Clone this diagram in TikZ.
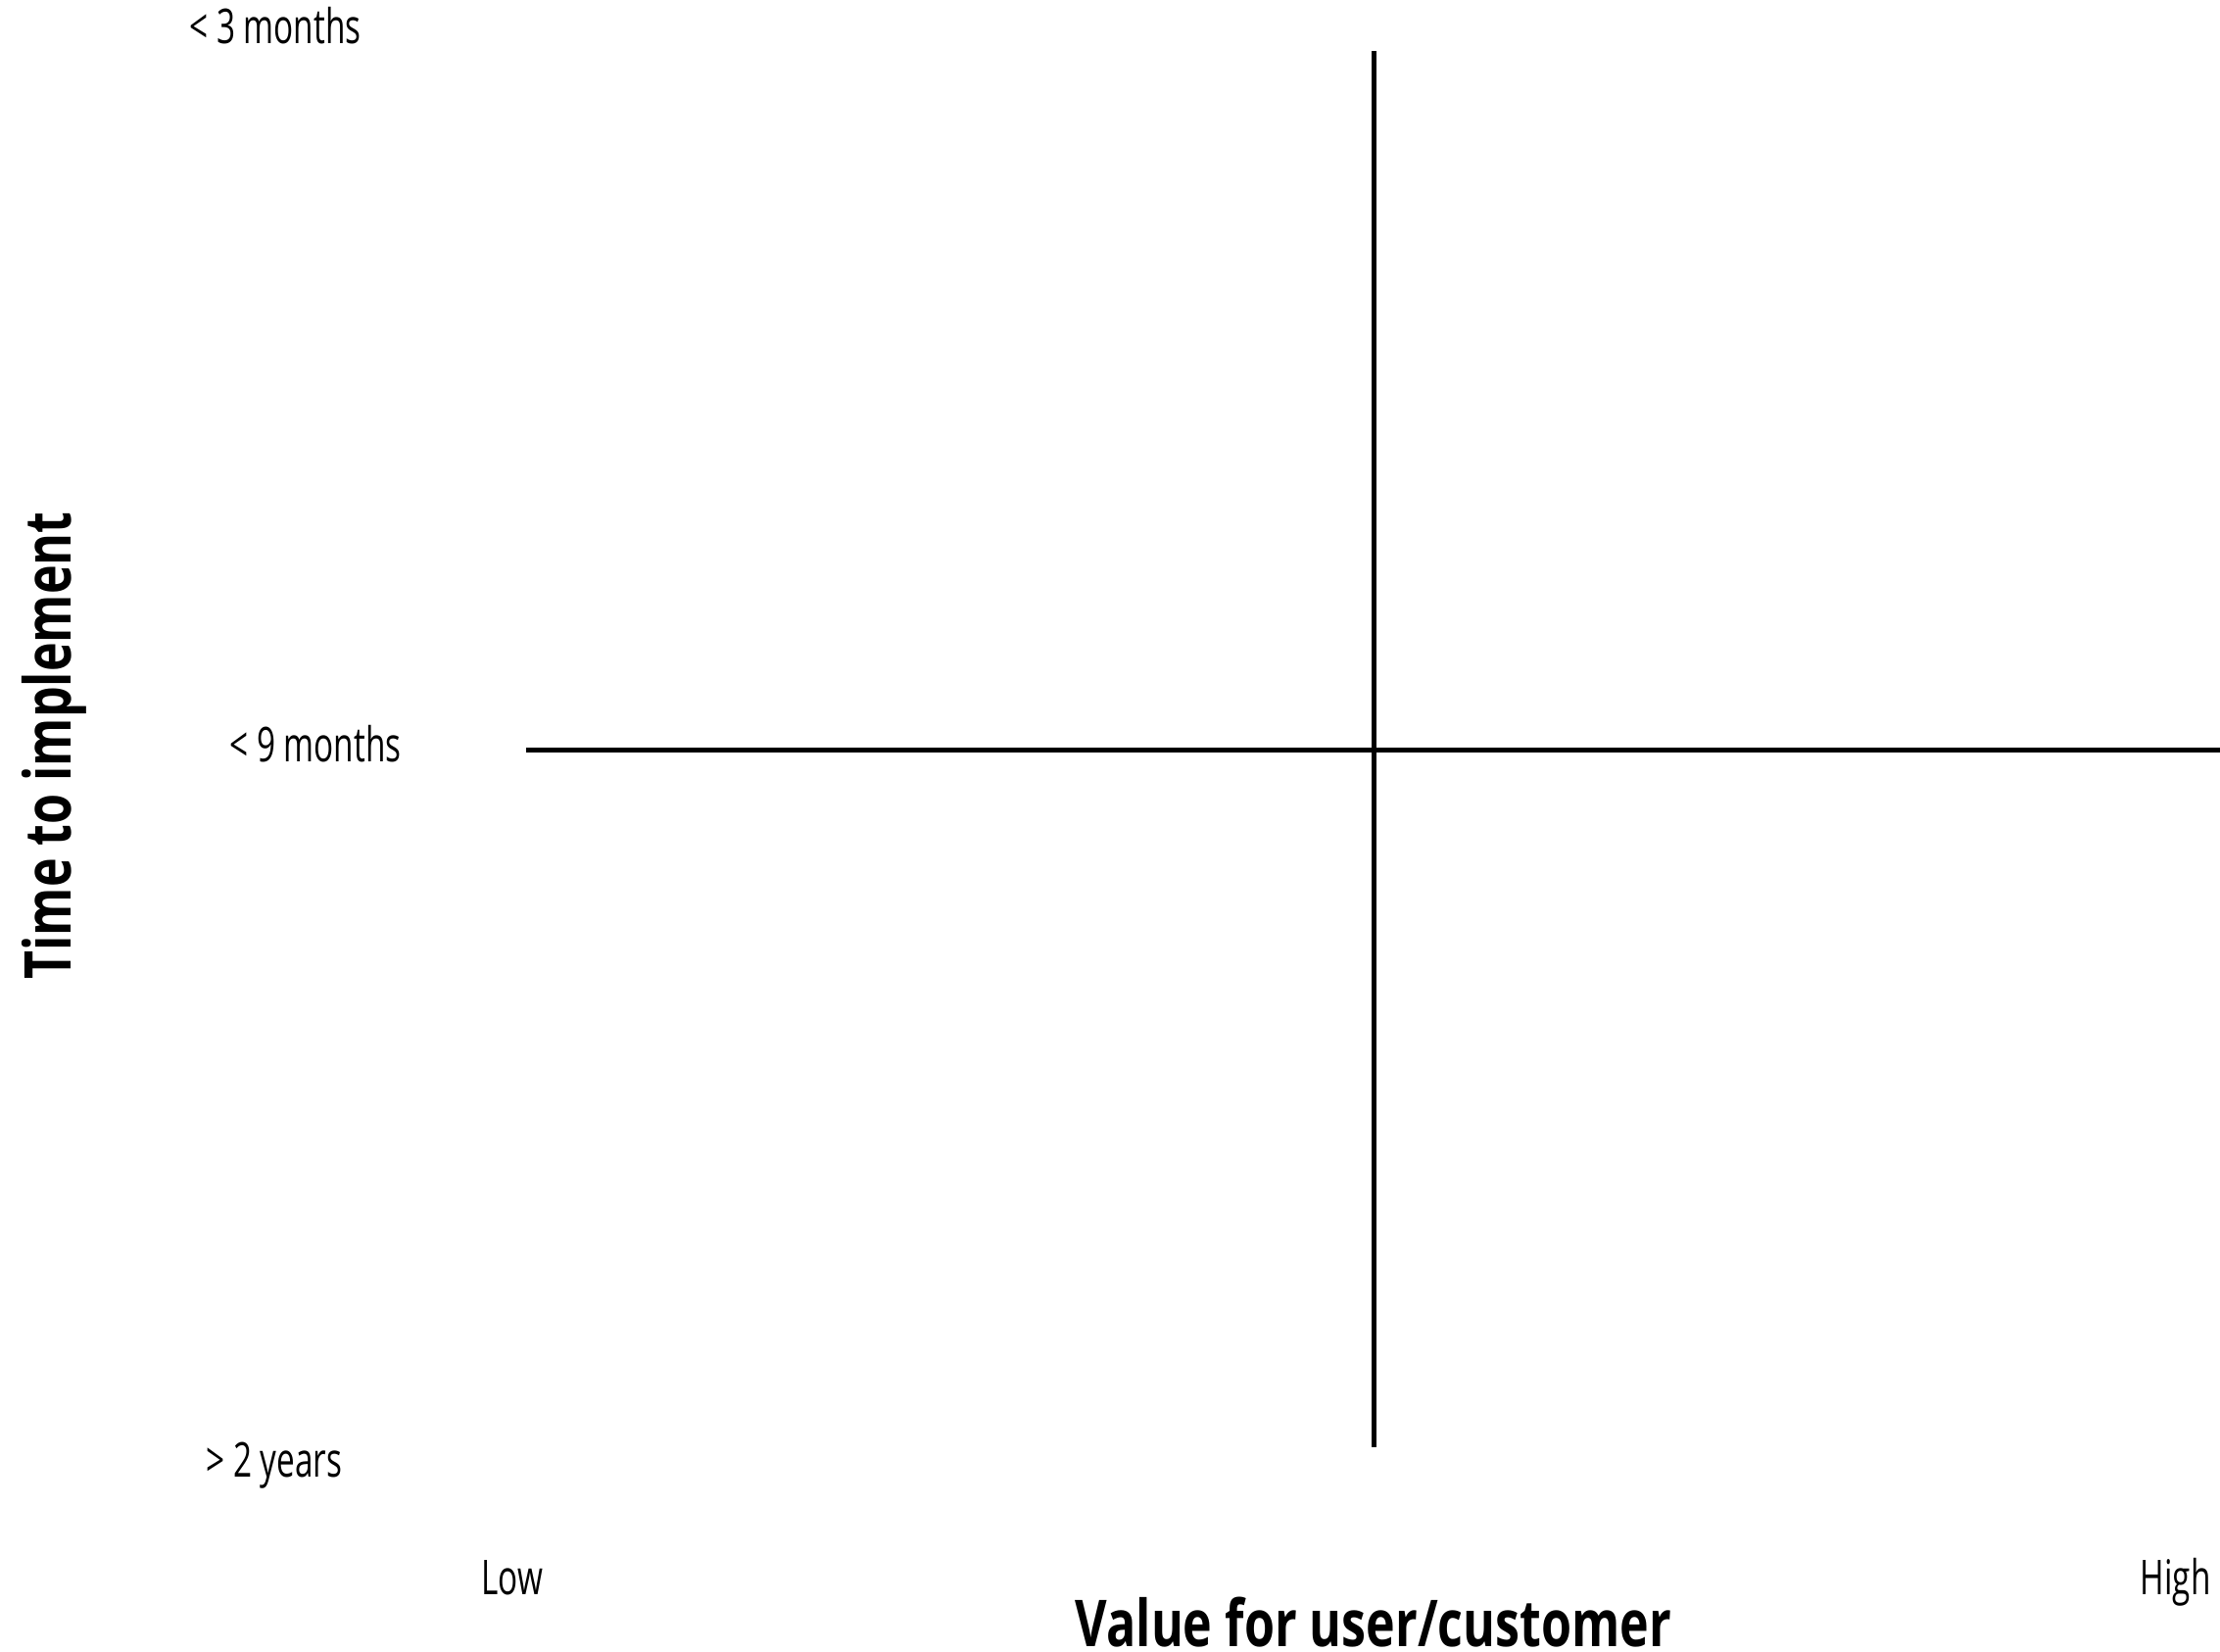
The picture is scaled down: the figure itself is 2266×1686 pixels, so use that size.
\documentclass[tikz,border=0pt]{standalone}
\usepackage{fontspec}
\setmainfont{Open Sans}[FakeStretch=0.68]
\newfontfamily\titlefont{Open Sans}[FakeStretch=0.76]
\begin{document}
\begin{tikzpicture}[x=0.5pt,y=-0.5pt,
  lbl/.style={inner sep=0pt,font=\fontsize{24.5}{28}\selectfont},
  ttl/.style={inner sep=0pt,font=\titlefont\bfseries\fontsize{33}{38}\selectfont},
  axisline/.style={line width=2.5pt,black}]
\useasboundingbox (0,0) rectangle (2266,1686);
\coordinate (vtop) at (1402,52);
\coordinate (vbot) at (1402,1477);
\coordinate (hleft) at (537,765);
\coordinate (hright) at (2266,765);
\draw[axisline] (vtop) -- (vbot);
\draw[axisline] (hleft) -- (hright);
\node[lbl,anchor=base west] (m3) at (193,45) {< 3 months};
\node[lbl,anchor=base west] (m9) at (234,777) {< 9 months};
\node[lbl,anchor=base west] (y2) at (210,1507) {> 2 years};
\node[lbl,anchor=base west] (low) at (491,1627) {Low};
\node[lbl,anchor=base east] (high) at (2257,1627) {High};
\node[ttl,anchor=base] (xt) at (1402,1680) {Value for user/customer};
\node[ttl,anchor=base,rotate=90] (yt) at (72,761) {Time to implement};
\end{tikzpicture}
\end{document}
